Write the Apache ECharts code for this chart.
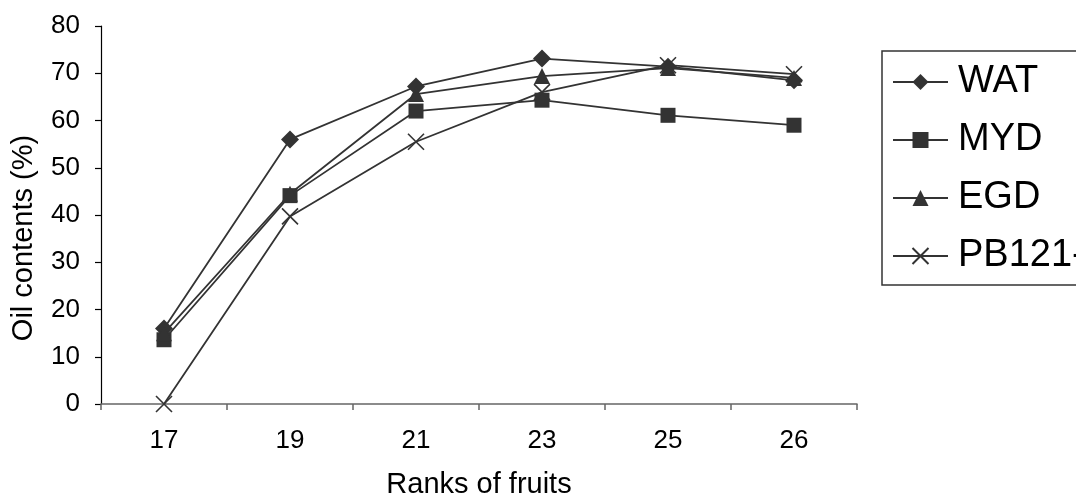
<!DOCTYPE html>
<html>
<head>
<meta charset="utf-8">
<script src="https://cdn.jsdelivr.net/npm/echarts@6/dist/echarts.min.js"></script>
<style>
html,body{margin:0;padding:0;background:#fff;}
#chart{width:1076px;height:497px;}
</style>
</head>
<body>
<div id="chart"></div>
<script>
const categories = ['17', '19', '21', '23', '25', '26'];
const yTicks = [0, 10, 20, 30, 40, 50, 60, 70, 80];
const seriesNames = ['WAT', 'MYD', 'EGD', 'PB121-'];
const watValues = [16.0, 56.0, 67.2, 73.1, 71.4, 68.5];
const mydValues = [13.6, 44.1, 62.0, 64.3, 61.1, 59.0];
const egdValues = [15.0, 44.5, 65.6, 69.4, 71.1, 69.0];
const pbValues  = [0.0, 39.7, 55.5, 66.0, 71.7, 69.8];

const FONT = 'Liberation Sans, Arial, sans-serif';
const DARK = '#333333';
const crossPath = 'path://M0,0L10,10M10,0L0,10';

function mk(name, data, symbol, size, extraItem) {
  return {
    name: name,
    type: 'line',
    data: data,
    symbol: symbol,
    symbolSize: size,
    showAllSymbol: true,
    lineStyle: { color: DARK, width: 1.8 },
    itemStyle: Object.assign({ color: DARK, opacity: 1 }, extraItem || {}),
    emphasis: { disabled: true },
    animation: false
  };
}

const chart = echarts.init(document.getElementById('chart'), null, { renderer: 'canvas' });
chart.setOption({
  backgroundColor: '#ffffff',
  animation: false,
  textStyle: { fontFamily: FONT, color: '#000' },
  grid: { left: 101, right: 219, top: 26, bottom: 93, containLabel: false, outerBoundsMode: 'none' },
  legend: {
    orient: 'vertical',
    left: 882,
    top: 51,
    data: seriesNames,
    itemWidth: 55,
    itemHeight: 20,
    itemGap: 20,
    padding: [12, 40, 10, 10],
    borderColor: DARK,
    borderWidth: 1.5,
    textStyle: { fontSize: 38, fontFamily: FONT, color: '#000', padding: [0, 0, 0, 5] },
    selectedMode: false
  },
  xAxis: {
    type: 'category',
    data: categories,
    boundaryGap: true,
    name: 'Ranks of fruits',
    nameLocation: 'middle',
    nameGap: 66,
    nameTextStyle: { fontSize: 29, fontFamily: FONT, color: '#000' },
    axisLine: { lineStyle: { color: '#666', width: 1.5 } },
    axisTick: { show: true, alignWithLabel: false, length: 6, lineStyle: { color: '#666', width: 1.5 } },
    axisLabel: { fontSize: 26, fontFamily: FONT, color: '#000', margin: 24 },
    splitLine: { show: false }
  },
  yAxis: {
    type: 'value',
    min: 0,
    max: 80,
    interval: 10,
    name: 'Oil contents (%)',
    nameLocation: 'middle',
    nameGap: 63,
    nameTextStyle: { fontSize: 29, fontFamily: FONT, color: '#000', padding: [0, 46, 0, 0] },
    axisLine: { show: true, lineStyle: { color: '#000', width: 1.2 } },
    axisTick: { show: true, length: 6, lineStyle: { color: '#000', width: 1.2 } },
    axisLabel: {
      fontSize: 26, fontFamily: FONT, color: '#000', margin: 21,
      formatter: function (v) { return yTicks.indexOf(v) >= 0 ? String(v) : ''; }
    },
    splitLine: { show: false }
  },
  series: [
    mk('WAT', watValues, 'diamond', 18),
    mk('MYD', mydValues, 'rect', 15),
    mk('EGD', egdValues, 'triangle', 16),
    mk('PB121-', pbValues, crossPath, 16, { borderColor: DARK, borderWidth: 1.6, color: 'rgba(0,0,0,0)' })
  ]
});
</script>
</body>
</html>
